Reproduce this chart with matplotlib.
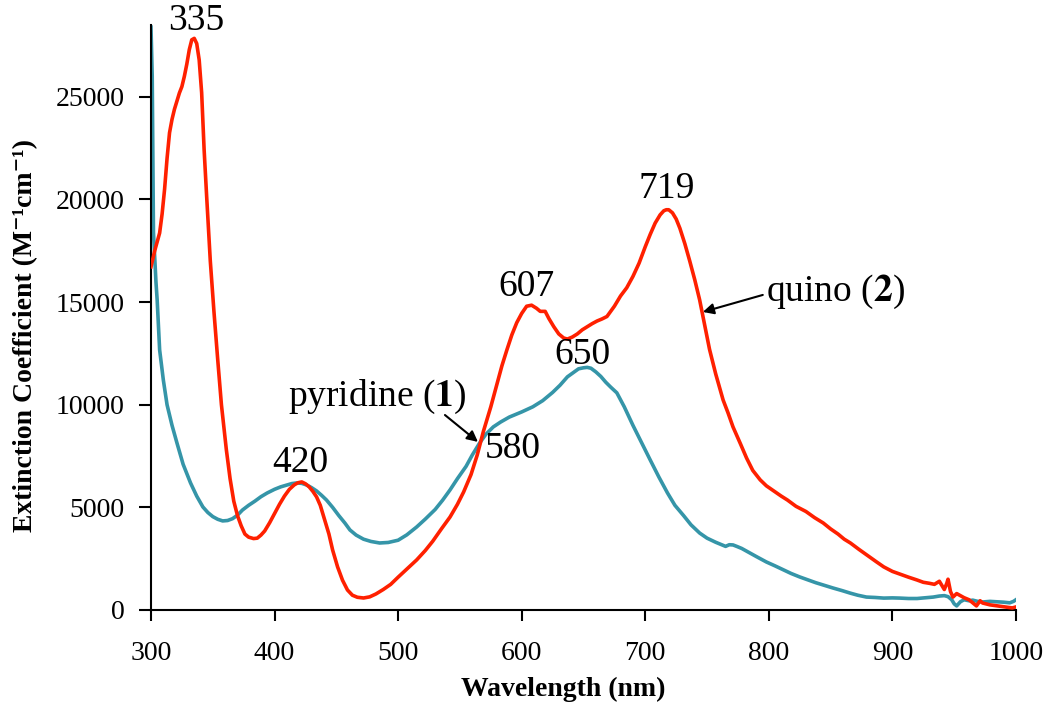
import matplotlib
matplotlib.use("Agg")
import matplotlib.pyplot as plt

plt.rcParams['font.family'] = ['Liberation Serif', 'DejaVu Serif']
plt.rcParams['mathtext.fontset'] = 'stix'

# --- spectra (wavelength nm, extinction M^-1 cm^-1) ---
wl_pyridine = [300, 301, 302, 304, 305, 307, 310, 313, 317, 321, 326, 332, 337, 342, 346,
               350, 354, 358, 362, 366, 370, 374, 379, 384, 389, 394, 400, 405, 410, 414,
               418, 422, 426, 430, 434, 438, 442, 447, 452, 457, 461, 466, 472, 478, 485,
               492, 500, 507, 515, 522, 530, 536, 542, 548, 555, 560, 566, 571, 577, 583,
               590, 600, 609, 617, 625, 631, 637, 642, 646, 650, 653, 656, 660, 664, 668,
               672, 677, 683, 690, 697, 704, 711, 718, 724, 731, 737, 744, 750, 757, 761,
               765, 768, 771, 774, 778, 784, 790, 798, 805, 812, 818, 825, 832, 838, 845,
               852, 859, 866, 872, 879, 886, 893, 900, 906, 913, 920, 927, 933, 938, 942,
               945, 948, 950, 952, 955, 958, 962, 965, 969, 973, 979, 985, 990, 995, 998,
               1000]
eps_pyridine = [28400, 26000, 18400, 16000, 15100, 12670, 11200, 10000, 9000, 8140, 7100,
                6190, 5550, 5020, 4750, 4550, 4420, 4340, 4360, 4450, 4620, 4870, 5100, 5300,
                5520, 5700, 5880, 6000, 6090, 6160, 6190, 6170, 6090, 5960, 5800, 5590, 5360,
                5000, 4600, 4230, 3900, 3650, 3450, 3340, 3265, 3290, 3400, 3660, 4045, 4430,
                4900, 5350, 5850, 6400, 7000, 7550, 8140, 8560, 8920, 9160, 9400, 9650, 9900,
                10200, 10600, 10950, 11360, 11580, 11750, 11800, 11820, 11780, 11600, 11380,
                11100, 10860, 10580, 9900, 9000, 8150, 7310, 6480, 5700, 5100, 4600, 4150,
                3750, 3500, 3300, 3200, 3100, 3180, 3170, 3100, 3000, 2800, 2600, 2340, 2150,
                1950, 1780, 1610, 1460, 1330, 1200, 1070, 950, 820, 720, 630, 610, 580, 590,
                580, 560, 560, 600, 630, 680, 700, 650, 500, 300, 200, 400, 500, 450, 480,
                420, 390, 420, 400, 380, 350, 420, 500]

wl_quino = [300, 303, 307, 309, 311, 313, 315, 317, 319, 321, 323, 325, 327, 329, 331, 333,
            335, 337, 339, 341, 343, 345, 348, 351, 354, 357, 361, 364, 367, 370, 373,
            376, 379, 383, 386, 389, 392, 396, 400, 404, 408, 412, 416, 419, 422, 425,
            428, 431, 434, 437, 440, 444, 447, 451, 455, 459, 463, 467, 472, 477, 482,
            488, 494, 500, 508, 515, 522, 528, 535, 542, 548, 553, 559, 564, 569, 575,
            580, 584, 588, 592, 596, 600, 604, 608, 612, 615, 619, 622, 626, 630, 634,
            637, 641, 645, 649, 653, 657, 661, 665, 669, 675, 680, 685, 690, 695, 700,
            704, 708, 712, 715, 717, 719, 722, 725, 728, 732, 736, 740, 744, 748, 752,
            757, 763, 767, 771, 777, 782, 787, 793, 798, 804, 810, 815, 822, 830, 837,
            844, 850, 856, 861, 866, 873, 880, 887, 893, 900, 906, 913, 920, 925, 930,
            934, 938, 940, 942, 944, 945, 947, 949, 952, 955, 958, 962, 965, 968, 971,
            973, 979, 985, 991, 997, 1000]
eps_quino = [16720, 17500, 18370, 19300, 20500, 22000, 23250, 23900, 24400, 24800, 25190,
             25500, 26000, 26600, 27300, 27780, 27850, 27600, 26800, 25200, 22420, 20200,
             17000, 14500, 12200, 10000, 7800, 6400, 5300, 4600, 4100, 3700, 3550, 3480,
             3500, 3650, 3850, 4250, 4700, 5150, 5550, 5880, 6100, 6200, 6240, 6150, 6000,
             5780, 5510, 5100, 4500, 3700, 2920, 2100, 1450, 975, 720, 620, 585, 640, 780,
             1000, 1250, 1600, 2050, 2440, 2900, 3350, 3950, 4530, 5150, 5750, 6600, 7550,
             8700, 9900, 11000, 11900, 12670, 13400, 14000, 14450, 14800, 14850, 14700,
             14550, 14550, 14200, 13800, 13450, 13250, 13200, 13300, 13450, 13650, 13800,
             13950, 14080, 14180, 14300, 14800, 15300, 15700, 16250, 16900, 17700, 18300,
             18850, 19250, 19450, 19500, 19500, 19350, 19050, 18600, 17850, 17000, 16100,
             15110, 13900, 12700, 11500, 10230, 9600, 8920, 8100, 7400, 6800, 6340, 6050,
             5800, 5550, 5360, 5050, 4800, 4500, 4240, 3950, 3700, 3450, 3265, 2950, 2650,
             2350, 2100, 1880, 1750, 1600, 1460, 1350, 1300, 1250, 1400, 1200, 1000, 1300,
             1500, 900, 630, 800, 700, 600, 500, 350, 200, 450, 340, 250, 200, 150, 100,
             150]

x_ticks = [300, 400, 500, 600, 700, 800, 900, 1000]
y_ticks = [0, 5000, 10000, 15000, 20000, 25000]

# peak labels: (text, x, y)
peak_labels = [("335", 337, 28700), ("420", 420.5, 7160), ("607", 604, 15740),
               ("650", 649, 12430), ("719", 717.5, 20520)]

fig = plt.figure(figsize=(10.5, 7.07), dpi=100)
ax = fig.add_axes([0.1438, 0.1372, 0.8238, 0.8274])

ax.plot(wl_pyridine, eps_pyridine, color='#3595A8', lw=2.6, zorder=2)
ax.plot(wl_quino, eps_quino, color='#FF2000', lw=2.6, zorder=3)

ax.set_xlim(300, 1000)
ax.set_ylim(0, 28500)
ax.set_xticks(x_ticks)
ax.set_yticks(y_ticks)
ax.tick_params(axis='x', direction='out', length=8, width=1.5, labelsize=20, pad=14)
ax.tick_params(axis='y', direction='out', length=9, width=1.5, labelsize=20, pad=10)
for s in ['top', 'right']:
    ax.spines[s].set_visible(False)
for s in ['left', 'bottom']:
    ax.spines[s].set_linewidth(1.5)

ax.set_xlabel('Wavelength (nm)', fontsize=20, fontweight='bold')
ax.xaxis.set_label_coords(0.477, -0.115)
ax.set_ylabel('Extinction Coefficient (M\u207b\u00b9cm\u207b\u00b9)',
              fontsize=20, fontweight='bold')
ax.yaxis.set_label_coords(-0.131, 0.47)

for txt, xv, yv in peak_labels:
    ax.text(xv, yv, txt, fontsize=27, ha='center', va='center', clip_on=False)

ax.text(570, 7850, "580", fontsize=27, ha='left', va='center')

# compound labels with arrows
ax.annotate('', xy=(564.6, 8190), xytext=(537.9, 9500),
            arrowprops=dict(arrowstyle='-|>', color='black', lw=1.5, mutation_scale=16,
                            shrinkA=0, shrinkB=0))
ax.text(483, 10380, r'pyridine ($\mathbf{1}$)', fontsize=27, ha='center', va='center')

ax.annotate('', xy=(746.6, 14520), xytext=(795.1, 15350),
            arrowprops=dict(arrowstyle='-|>', color='black', lw=1.5, mutation_scale=16,
                            shrinkA=0, shrinkB=0))
ax.text(798, 15500, r'quino ($\mathbf{2}$)', fontsize=27, ha='left', va='center')

fig.savefig('out.png', dpi=100)
